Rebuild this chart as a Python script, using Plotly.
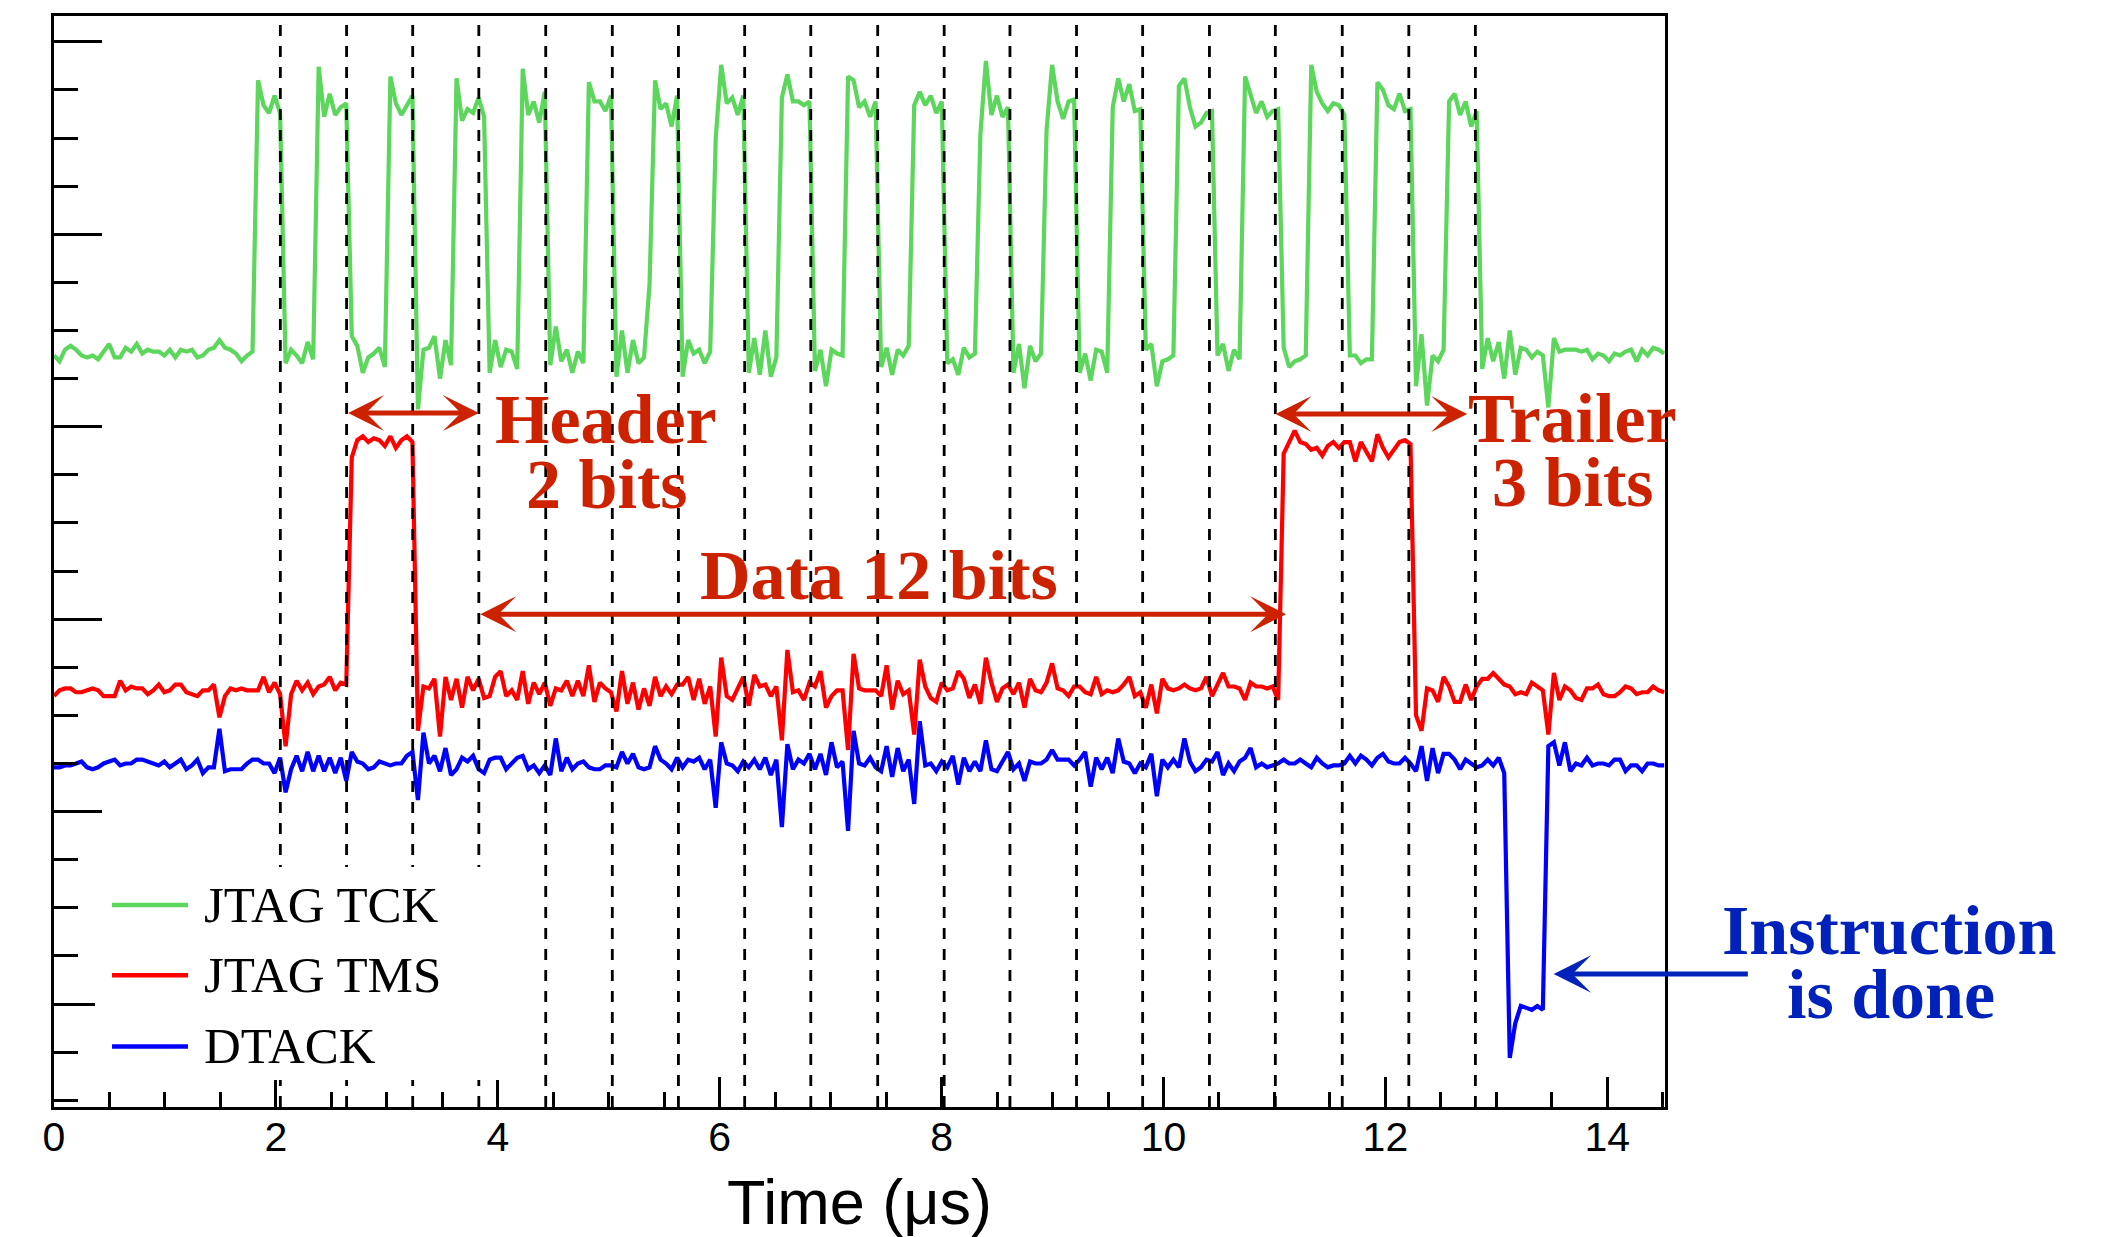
import plotly.graph_objects as go

# ---------------- data ----------------
SAMPLE_DT_US = 0.0497  # scope sample interval (µs)

TCK = [
    3.37, 3.34, 3.40, 3.42, 3.40, 3.37, 3.36, 3.37, 3.35, 3.39,
    3.43, 3.36, 3.36, 3.41, 3.39, 3.43, 3.38, 3.40, 3.39, 3.39,
    3.37, 3.40, 3.36, 3.40, 3.39, 3.40, 3.36, 3.37, 3.40, 3.41,
    3.45, 3.41, 3.40, 3.38, 3.34, 3.37, 3.39, 4.80, 4.67, 4.63,
    4.72, 4.63, 3.33, 3.40, 3.37, 3.33, 3.44, 3.35, 4.87, 4.61,
    4.73, 4.62, 4.66, 4.68, 3.47, 3.42, 3.28, 3.36, 3.38, 3.41,
    3.31, 4.82, 4.68, 4.62, 4.67, 4.72, 3.09, 3.40, 3.41, 3.47,
    3.25, 3.45, 3.32, 4.81, 4.59, 4.65, 4.63, 4.71, 4.61, 3.28,
    3.45, 3.31, 3.40, 3.39, 3.30, 4.86, 4.62, 4.69, 4.58, 4.74,
    3.32, 3.52, 3.34, 3.40, 3.28, 3.39, 3.33, 4.79, 4.69, 4.69,
    4.64, 4.72, 3.26, 3.50, 3.28, 3.45, 3.33, 3.36, 3.74, 4.80,
    4.65, 4.68, 4.56, 4.72, 3.26, 3.45, 3.38, 3.40, 3.33, 3.39,
    4.50, 4.88, 4.68, 4.71, 4.62, 4.72, 3.28, 3.46, 3.27, 3.50,
    3.26, 3.36, 4.71, 4.83, 4.69, 4.69, 4.67, 4.69, 3.29, 3.40,
    3.21, 3.40, 3.38, 3.37, 4.82, 4.80, 4.66, 4.69, 4.61, 4.69,
    3.31, 3.41, 3.27, 3.40, 3.37, 3.42, 4.67, 4.74, 4.67, 4.72,
    4.63, 4.69, 3.33, 3.35, 3.27, 3.41, 3.36, 3.38, 4.52, 4.90,
    4.62, 4.72, 4.61, 4.66, 3.28, 3.43, 3.20, 3.42, 3.34, 3.38,
    4.54, 4.88, 4.69, 4.60, 4.69, 4.70, 3.28, 3.38, 3.24, 3.40,
    3.39, 3.28, 4.66, 4.81, 4.69, 4.78, 4.64, 4.65, 3.40, 3.43,
    3.21, 3.34, 3.35, 3.37, 4.77, 4.81, 4.66, 4.56, 4.58, 4.63,
    4.64, 3.37, 3.43, 3.29, 3.40, 3.35, 4.82, 4.73, 4.63, 4.69,
    4.61, 4.64, 4.65, 3.41, 3.31, 3.34, 3.35, 3.37, 4.88, 4.74,
    4.68, 4.64, 4.68, 4.67, 4.62, 3.37, 3.37, 3.33, 3.35, 3.35,
    4.79, 4.75, 4.67, 4.65, 4.73, 4.64, 4.65, 3.21, 3.48, 3.11,
    3.37, 3.34, 3.40, 4.69, 4.73, 4.62, 4.69, 4.56, 4.64, 3.30,
    3.46, 3.34, 3.44, 3.25, 3.50, 3.27, 3.41, 3.40, 3.36, 3.39,
    3.37, 3.10, 3.46, 3.39, 3.40, 3.40, 3.40, 3.39, 3.40, 3.35,
    3.38, 3.37, 3.34, 3.38, 3.37, 3.39, 3.40, 3.34, 3.40, 3.37,
    3.41, 3.40, 3.38,
]

TMS = [
    1.60, 1.63, 1.64, 1.64, 1.62, 1.62, 1.63, 1.64, 1.63, 1.60,
    1.60, 1.60, 1.68, 1.63, 1.65, 1.64, 1.64, 1.61, 1.63, 1.66,
    1.62, 1.63, 1.66, 1.66, 1.62, 1.61, 1.60, 1.63, 1.63, 1.66,
    1.49, 1.60, 1.64, 1.63, 1.64, 1.63, 1.63, 1.63, 1.70, 1.62,
    1.67, 1.61, 1.34, 1.61, 1.68, 1.63, 1.67, 1.61, 1.65, 1.66,
    1.70, 1.63, 1.67, 1.66, 2.84, 2.93, 2.95, 2.92, 2.94, 2.93,
    2.90, 2.95, 2.89, 2.93, 2.95, 2.92, 1.42, 1.65, 1.64, 1.69,
    1.39, 1.70, 1.58, 1.69, 1.54, 1.70, 1.63, 1.69, 1.59, 1.60,
    1.70, 1.73, 1.60, 1.63, 1.58, 1.73, 1.56, 1.67, 1.61, 1.67,
    1.55, 1.64, 1.63, 1.68, 1.60, 1.68, 1.60, 1.76, 1.57, 1.67,
    1.64, 1.62, 1.52, 1.73, 1.56, 1.67, 1.53, 1.64, 1.55, 1.70,
    1.60, 1.65, 1.61, 1.66, 1.66, 1.70, 1.58, 1.69, 1.56, 1.65,
    1.39, 1.80, 1.60, 1.58, 1.64, 1.70, 1.55, 1.71, 1.65, 1.66,
    1.60, 1.65, 1.37, 1.84, 1.62, 1.63, 1.58, 1.67, 1.65, 1.73,
    1.54, 1.60, 1.63, 1.63, 1.32, 1.82, 1.64, 1.63, 1.63, 1.63,
    1.60, 1.76, 1.53, 1.68, 1.61, 1.63, 1.40, 1.79, 1.65, 1.59,
    1.57, 1.67, 1.63, 1.64, 1.73, 1.69, 1.59, 1.66, 1.56, 1.80,
    1.67, 1.57, 1.64, 1.66, 1.61, 1.67, 1.54, 1.69, 1.63, 1.62,
    1.67, 1.77, 1.64, 1.63, 1.60, 1.65, 1.65, 1.62, 1.61, 1.70,
    1.61, 1.63, 1.62, 1.63, 1.66, 1.70, 1.60, 1.62, 1.54, 1.66,
    1.51, 1.69, 1.64, 1.63, 1.64, 1.66, 1.64, 1.63, 1.64, 1.70,
    1.60, 1.66, 1.72, 1.65, 1.65, 1.64, 1.58, 1.67, 1.65, 1.65,
    1.64, 1.65, 1.58, 2.86, 2.92, 2.98, 2.92, 2.91, 2.88, 2.89,
    2.85, 2.90, 2.92, 2.89, 2.92, 2.92, 2.82, 2.92, 2.87, 2.82,
    2.96, 2.89, 2.84, 2.88, 2.92, 2.93, 2.91, 1.50, 1.42, 1.64,
    1.63, 1.57, 1.70, 1.65, 1.57, 1.57, 1.66, 1.58, 1.65, 1.69,
    1.69, 1.72, 1.69, 1.66, 1.65, 1.61, 1.62, 1.61, 1.67, 1.65,
    1.63, 1.40, 1.72, 1.58, 1.65, 1.63, 1.59, 1.58, 1.64, 1.64,
    1.66, 1.61, 1.60, 1.60, 1.62, 1.65, 1.64, 1.61, 1.62, 1.62,
    1.65, 1.63, 1.62,
]

DTACK = [
    1.23, 1.23, 1.24, 1.24, 1.25, 1.26, 1.23, 1.22, 1.23, 1.25,
    1.26, 1.27, 1.24, 1.25, 1.25, 1.27, 1.27, 1.26, 1.25, 1.24,
    1.26, 1.23, 1.25, 1.27, 1.22, 1.24, 1.27, 1.20, 1.23, 1.23,
    1.43, 1.21, 1.22, 1.22, 1.22, 1.25, 1.27, 1.27, 1.25, 1.25,
    1.20, 1.28, 1.10, 1.22, 1.29, 1.21, 1.31, 1.21, 1.29, 1.21,
    1.28, 1.20, 1.28, 1.16, 1.31, 1.26, 1.25, 1.22, 1.23, 1.26,
    1.25, 1.24, 1.25, 1.25, 1.29, 1.31, 1.06, 1.41, 1.25, 1.29,
    1.21, 1.33, 1.19, 1.22, 1.28, 1.26, 1.29, 1.22, 1.20, 1.27,
    1.28, 1.28, 1.22, 1.25, 1.28, 1.29, 1.22, 1.24, 1.20, 1.24,
    1.19, 1.38, 1.21, 1.28, 1.22, 1.25, 1.26, 1.23, 1.22, 1.22,
    1.24, 1.24, 1.23, 1.31, 1.25, 1.30, 1.23, 1.22, 1.23, 1.34,
    1.27, 1.25, 1.22, 1.28, 1.23, 1.27, 1.26, 1.28, 1.22, 1.27,
    1.02, 1.36, 1.25, 1.24, 1.21, 1.26, 1.23, 1.27, 1.22, 1.28,
    1.19, 1.27, 0.92, 1.35, 1.22, 1.27, 1.25, 1.30, 1.22, 1.30,
    1.19, 1.36, 1.23, 1.26, 0.90, 1.42, 1.25, 1.24, 1.28, 1.23,
    1.21, 1.34, 1.18, 1.33, 1.21, 1.27, 1.04, 1.47, 1.24, 1.25,
    1.21, 1.26, 1.23, 1.29, 1.14, 1.28, 1.21, 1.26, 1.21, 1.37,
    1.22, 1.21, 1.26, 1.31, 1.22, 1.25, 1.16, 1.26, 1.25, 1.25,
    1.27, 1.32, 1.27, 1.27, 1.27, 1.24, 1.27, 1.31, 1.13, 1.28,
    1.22, 1.28, 1.20, 1.38, 1.26, 1.25, 1.20, 1.25, 1.23, 1.30,
    1.08, 1.27, 1.23, 1.27, 1.23, 1.38, 1.26, 1.21, 1.23, 1.27,
    1.26, 1.31, 1.19, 1.25, 1.21, 1.26, 1.28, 1.33, 1.23, 1.25,
    1.23, 1.24, 1.25, 1.27, 1.25, 1.25, 1.27, 1.25, 1.23, 1.28,
    1.25, 1.23, 1.24, 1.24, 1.25, 1.29, 1.25, 1.29, 1.27, 1.24,
    1.28, 1.30, 1.26, 1.25, 1.25, 1.28, 1.25, 1.21, 1.34, 1.16,
    1.33, 1.20, 1.30, 1.30, 1.27, 1.22, 1.27, 1.25, 1.23, 1.24,
    1.27, 1.24, 1.28, 1.20, -0.28, -0.10, -0.01, -0.02, -0.03, -0.01,
    -0.03, 1.34, 1.36, 1.24, 1.36, 1.21, 1.25, 1.24, 1.28, 1.24,
    1.25, 1.25, 1.24, 1.27, 1.27, 1.21, 1.24, 1.24, 1.21, 1.25,
    1.25, 1.24, 1.24,
]

CLOCK_EDGES_US = [2.040, 2.637, 3.233, 3.829, 4.432, 5.032, 5.628, 6.225,
                  6.821, 7.424, 8.023, 8.616, 9.216, 9.812, 10.414, 11.008,
                  11.611, 12.211, 12.811]

SERIES_NAMES = ["JTAG TCK", "JTAG TMS", "DTACK"]
SERIES_COLORS = ["#5cd65c", "#ff0000", "#0000ff"]
X_TICKS = [0, 2, 4, 6, 8, 10, 12, 14]

# ---------------- figure ----------------
W, H = 2111, 1237
ML, MR, MT, MB = 54, 446, 16, 130
X_RANGE = [0, 14.52]
Y_RANGE = [-0.535, 5.134]

RED_TXT = "#cc2200"
BLUE_TXT = "#0022bb"
SERIF = "Liberation Serif, Times New Roman, serif"
SANS = "Liberation Sans, Arial, sans-serif"

time_us = [round(i * SAMPLE_DT_US, 4) for i in range(len(TCK))]

fig = go.Figure()
for name, ys, col in zip(SERIES_NAMES, [TCK, TMS, DTACK], SERIES_COLORS):
    fig.add_trace(go.Scatter(x=time_us, y=ys, mode="lines", name=name,
                             line=dict(color=col, width=4.2),
                             showlegend=False, hoverinfo="skip"))

shapes = []
for xe in CLOCK_EDGES_US:
    shapes.append(dict(type="line", xref="x", yref="paper", x0=xe, x1=xe,
                       y0=0, y1=1, layer="above",
                       line=dict(color="black", width=2.8, dash="11px,10px")))
# legend box (white, no border) drawn over the dashed lines
shapes.append(dict(type="rect", xref="x", yref="y", x0=0.37, x1=4.07,
                   y0=-0.395, y1=0.712, layer="above",
                   fillcolor="white", line=dict(width=0)))
LEG_Y = [0.515, 0.15, -0.22]
for yl, col in zip(LEG_Y, SERIES_COLORS):
    shapes.append(dict(type="line", xref="x", yref="y", x0=0.523, x1=1.208,
                       y0=yl, y1=yl, layer="above",
                       line=dict(color=col, width=4.5)))

ann = []
for yl, name in zip(LEG_Y, SERIES_NAMES):
    ann.append(dict(text=name, x=1.343, y=yl, xref="x", yref="y",
                    showarrow=False, xanchor="left", yanchor="middle",
                    borderpad=0, font=dict(family=SERIF, size=51, color="black")))


def label(text, x, y, color, xref="x"):
    return dict(text="<b>%s</b>" % text, x=x, y=y, xref=xref, yref="y",
                showarrow=False, xanchor="center", yanchor="middle", borderpad=0,
                font=dict(family=SERIF, size=70, color=color))


def arrow(x_tip, y, x_tail, color, both, size=1.2):
    return dict(x=x_tip, y=y, ax=x_tail, ay=y, xref="x", yref="y",
                axref="x", ayref="y", text="", showarrow=True,
                arrowhead=3, startarrowhead=3, arrowsize=size,
                startarrowsize=size, arrowwidth=5, arrowcolor=color,
                arrowside="end+start" if both else "end",
                standoff=0, startstandoff=0)


ann += [
    arrow(3.829, 3.071, 2.637, RED_TXT, True),
    label("Header", 4.976, 3.037, RED_TXT),
    label("2 bits", 4.976, 2.699, RED_TXT),
    arrow(11.105, 2.026, 3.829, RED_TXT, True),
    label("Data 12 bits", 7.436, 2.229, RED_TXT),
    arrow(12.737, 3.066, 10.997, RED_TXT, True),
    label("Trailer", 13.683, 3.042, RED_TXT),
    label("3 bits", 13.683, 2.710, RED_TXT),
    arrow(13.516, 0.156, 15.28, BLUE_TXT, False, size=1.25),
    label("Instruction", (1889 - ML) / (W - ML - MR), 0.384, BLUE_TXT, xref="paper"),
    label("is done", (1891 - ML) / (W - ML - MR), 0.052, BLUE_TXT, xref="paper"),
]

fig.update_layout(
    width=W, height=H,
    margin=dict(l=ML, r=MR, t=MT, b=MB, pad=0),
    paper_bgcolor="white", plot_bgcolor="white",
    showlegend=False,
    shapes=shapes, annotations=ann,
    xaxis=dict(range=X_RANGE, showgrid=False, zeroline=False,
               showline=True, linecolor="black", linewidth=2.5, mirror=True,
               ticks="inside", ticklen=30, tickwidth=2.5, tickcolor="black",
               tickvals=X_TICKS, ticktext=[str(v) for v in X_TICKS],
               ticklabelstandoff=-8,
               tickfont=dict(family=SANS, size=41, color="black"),
               minor=dict(dtick=0.5, tick0=0, ticks="inside", ticklen=15,
                          tickwidth=2.5, tickcolor="black", showgrid=False),
               title=dict(text="Time (μs)", font=dict(family=SANS, size=63, color="black"),
                          standoff=22),
               automargin=False),
    yaxis=dict(range=Y_RANGE, showgrid=False, zeroline=False,
               showline=True, linecolor="black", linewidth=2.5, mirror=True,
               ticks="inside", ticklen=48, tickwidth=2.5, tickcolor="black",
               dtick=1, tick0=0, showticklabels=False,
               minor=dict(dtick=0.25, tick0=0, ticks="inside", ticklen=24,
                          tickwidth=2.5, tickcolor="black", showgrid=False),
               automargin=False),
)

fig.write_html("out.html",
               config={"displayModeBar": False},
               post_script="document.body.style.margin='0';"
                           "document.body.style.overflow='hidden';")
